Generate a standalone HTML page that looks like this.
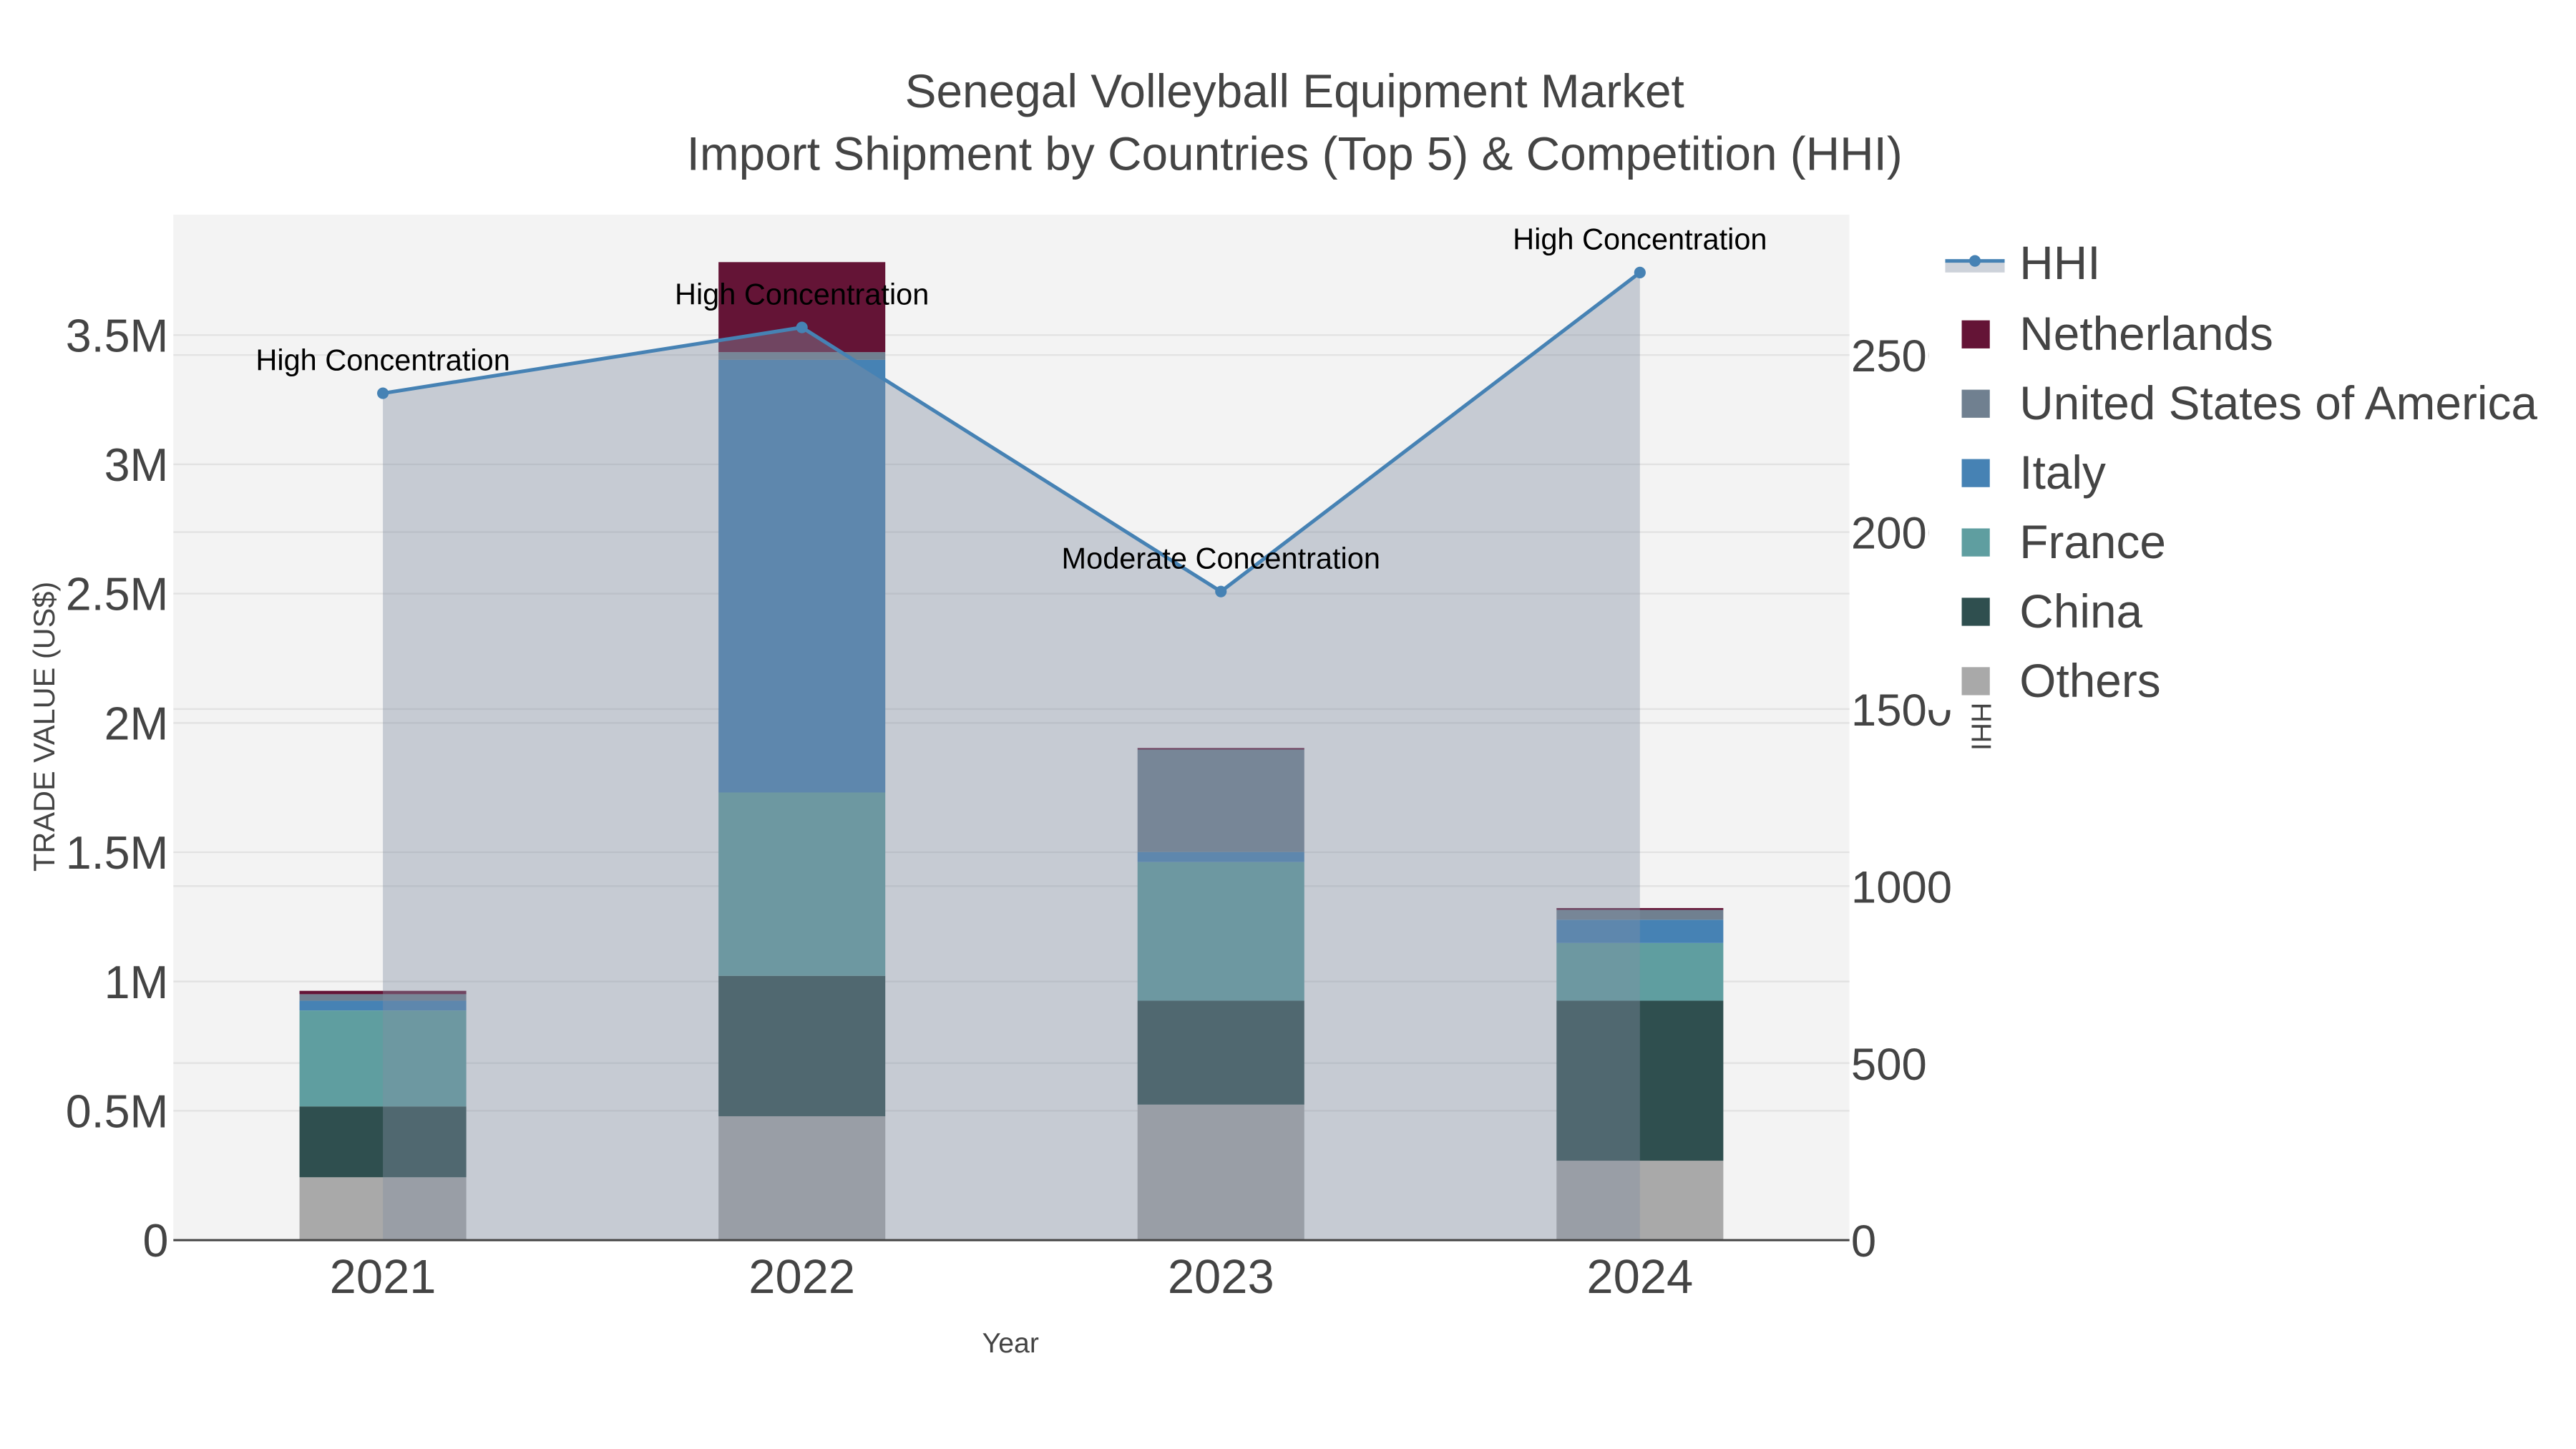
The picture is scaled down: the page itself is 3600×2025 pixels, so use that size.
<!DOCTYPE html>
<html><head><meta charset="utf-8"><style>
html,body{margin:0;padding:0;background:#fff;}
svg{display:block;font-family:"Liberation Sans",sans-serif;}
</style></head><body>
<svg id="chart" width="3600" height="2025" viewBox="0 0 1560 877.5" xmlns="http://www.w3.org/2000/svg">
<rect x="0" y="0" width="1560" height="877.5" fill="#fff"/>
<text x="784" y="65" text-anchor="middle" font-size="28.5" fill="#444">Senegal Volleyball Equipment Market</text>
<text x="784" y="103" text-anchor="middle" font-size="28.5" fill="#444">Import Shipment by Countries (Top 5) &amp; Competition (HHI)</text>
<rect x="105" y="130" width="1015" height="621" fill="#f3f3f3"/>
<g id="grid"></g>
<g id="bars"></g>
<g id="hhi"></g>
<line x1="105" y1="751" x2="1120" y2="751" stroke="#444" stroke-width="1.3"/>
<g id="axes"></g>
<text x="612" y="819" text-anchor="middle" font-size="17" fill="#444">Year</text>
<text transform="translate(33,440) rotate(-90)" text-anchor="middle" font-size="18" fill="#444">TRADE VALUE (US$)</text>
<g id="legend">
<rect x="1168" y="135" width="392" height="295" fill="#fff"/>
</g>
<text transform="translate(1194,440) rotate(90)" text-anchor="middle" font-size="17" fill="#444">HHI</text>
</svg>
<script>
const years = ['2021','2022','2023','2024'];
const seriesNames = ['Others','China','France','Italy','United States of America','Netherlands'];
const othersVals = [0.243, 0.479, 0.524, 0.307];
const chinaVals = [0.274, 0.543, 0.402, 0.619];
const franceVals = [0.371, 0.709, 0.536, 0.223];
const italyVals = [0.038, 1.673, 0.039, 0.090];
const usaVals = [0.025, 0.030, 0.396, 0.038];
const netherlandsVals = [0.013, 0.348, 0.006, 0.007];
const hhiVals = [2392, 2578, 1832, 2733];
const hhiLabels = ['High Concentration','High Concentration','Moderate Concentration','High Concentration'];
const yTicks = [0, 0.5, 1, 1.5, 2, 2.5, 3, 3.5];
const yTickLabels = ['0','0.5M','1M','1.5M','2M','2.5M','3M','3.5M'];
const y2Ticks = [0, 500, 1000, 1500, 2000, 2500];
const y2TickLabels = ['0','500','1000','1500','2000','2500'];

const NS='http://www.w3.org/2000/svg';
const colors=['#a9a9a9','#2f4f4f','#5f9ea0','#4682b4','#708090','#641436'];
const series=[othersVals,chinaVals,franceVals,italyVals,usaVals,netherlandsVals];
const L=105,R=1120,T=130,B=751;
const yMax=(B-T)/156.6;
const y=v=>B-v/yMax*(B-T);
const y2=v=>B-v*0.2144;
const x=i=>L+(R-L)/years.length*(i+0.5);
function mk(tag,attrs,parent){const e=document.createElementNS(NS,tag);for(const k in attrs)e.setAttribute(k,attrs[k]);document.getElementById(parent).appendChild(e);return e;}

yTicks.forEach((t,i)=>{
  const g=mk('line',{x1:L,x2:R,y1:y(t),y2:y(t),stroke:'#e2e2e2','stroke-width':1},'grid');
  
  
  const tx=mk('text',{x:L-3,y:y(t)+10,'text-anchor':'end','font-size':28,fill:'#444'},'axes');
  tx.textContent=yTickLabels[i];
  
  
});
y2Ticks.forEach((t,i)=>{
  const g=mk('line',{x1:L,x2:R,y1:y2(t),y2:y2(t),stroke:'#e2e2e2','stroke-width':1},'grid');
  
  
  const tx=mk('text',{x:R+1,y:y2(t)+10,'font-size':27.5,fill:'#444'},'axes');
  tx.textContent=y2TickLabels[i];
  
  
});
years.forEach((yr,i)=>{
  const tx=mk('text',{x:x(i),y:783,'text-anchor':'middle','font-size':29,fill:'#444'},'axes');
  tx.textContent=yr;
  
  
  let base=0;
  series.forEach((s,k)=>{
    const top=base+s[i];
    const r=mk('rect',{x:x(i)-50.5,width:101,y:y(top),height:y(base)-y(top),fill:colors[k]},'bars');
    
    
    base=top;
  });
});
let pts=hhiVals.map((v,i)=>x(i)+','+y2(v)).join(' ');
const area=mk('polygon',{points:x(0)+','+B+' '+pts+' '+x(hhiVals.length-1)+','+B,fill:'rgba(130,142,163,0.4)'},'hhi');


const line=mk('polyline',{points:pts,fill:'none',stroke:'#4682b4','stroke-width':2.2},'hhi');


hhiVals.forEach((v,i)=>{
  const c=mk('circle',{cx:x(i),cy:y2(v),r:3.5,fill:'#4682b4'},'hhi');
  
  
  const a=mk('text',{x:x(i),y:y2(v)-14,'text-anchor':'middle','font-size':18,fill:'#000'},'hhi');
  a.textContent=hhiLabels[i];
  
  
});
// legend
const hl=mk('rect',{x:1178,y:159,width:36,height:6,fill:'rgba(130,142,163,0.4)'},'legend');


const hl2=mk('line',{x1:1178,x2:1214,y1:158,y2:158,stroke:'#4682b4','stroke-width':2.2},'legend');


const hc=mk('circle',{cx:1196,cy:158,r:3.5,fill:'#4682b4'},'legend');


const ht=mk('text',{x:1223,y:169,'font-size':28.5,fill:'#444'},'legend');
ht.textContent='HHI';


const legOrder=[5,4,3,2,1,0];
legOrder.forEach((k,j)=>{
  const yy=202+42*j;
  const sq=mk('rect',{x:1188,y:yy-8,width:17,height:17,fill:colors[k]},'legend');
  
  
  const t=mk('text',{x:1223,y:yy+10,'font-size':28.5,fill:'#444'},'legend');
  t.textContent=seriesNames[k];
  
  
});
</script>
</body></html>
